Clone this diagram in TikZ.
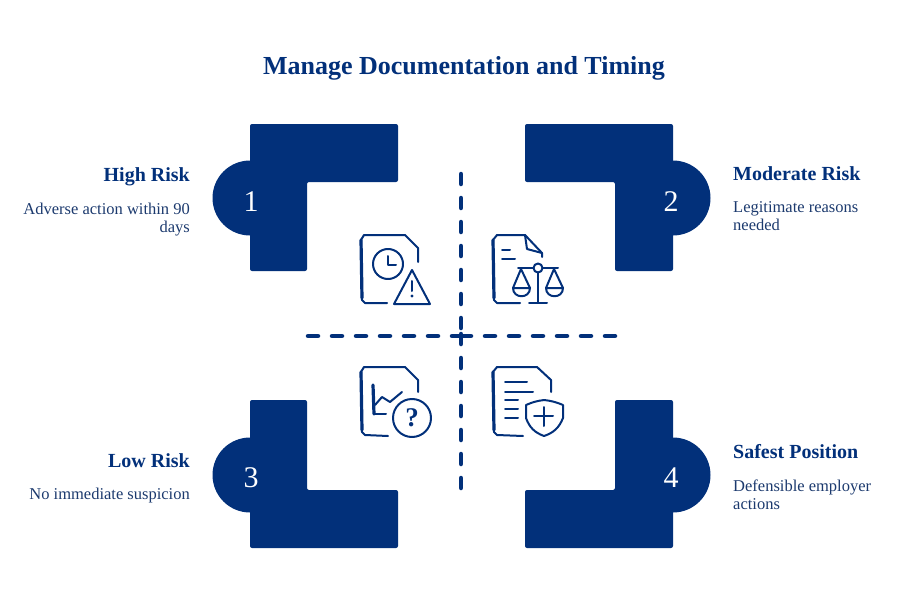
\documentclass[tikz,border=0pt]{standalone}
\usepackage{fontspec}
\setmainfont{Liberation Serif}
\usepackage{tikz}
\usetikzlibrary{positioning, calc}
\definecolor{navy}{HTML}{02307A}
\definecolor{inkblue}{HTML}{1C3A6E}
\tikzstyle{block} = [fill=navy, rounded corners=2pt]
\tikzstyle{numlabel} = [text=white, font=\fontsize{30}{30}\selectfont, inner sep=0pt]
\tikzstyle{headline} = [text=navy, font=\fontsize{20}{24}\selectfont\bfseries, inner sep=0pt]
\tikzstyle{desctext} = [text=inkblue, font=\fontsize{16.5}{18}\selectfont, inner sep=0pt, align=left]
\tikzstyle{dashline} = [draw=navy, line width=4.5pt, line cap=round, dash pattern=on 10pt off 14pt]
\tikzstyle{icon} = [draw=navy, line width=2pt, line cap=round, line join=round]
\tikzstyle{iconedge} = [draw=navy, line width=3.2pt, line cap=round]

\begin{document}
\begin{tikzpicture}[x=1pt, y=-1pt]
    \useasboundingbox (0,0) rectangle (900,594);

    % Title
    \node[text=navy, font=\fontsize{26}{30}\selectfont\bfseries, inner sep=0pt] (title) at (464,68) {Manage Documentation and Timing};

    % Blocks - one per corner
    \fill[block] (250,198) circle[radius=37.5];
    \fill[block] (250,124) -- (398,124) -- (398,182) -- (307,182) -- (307,271) -- (250,271) -- cycle;
    \fill[block] (673,198) circle[radius=37.5];
    \fill[block] (525,124) -- (673,124) -- (673,271) -- (615,271) -- (615,182) -- (525,182) -- cycle;
    \fill[block] (250,475) circle[radius=37.5];
    \fill[block] (250,400) -- (307,400) -- (307,490) -- (398,490) -- (398,548) -- (250,548) -- cycle;
    \fill[block] (673,475) circle[radius=37.5];
    \fill[block] (615,400) -- (673,400) -- (673,548) -- (525,548) -- (525,490) -- (615,490) -- cycle;

    % Numbers
    \node[numlabel] (n1) at (251,202) {1};
    \node[numlabel] (n2) at (671,202) {2};
    \node[numlabel] (n3) at (251,478) {3};
    \node[numlabel] (n4) at (671,478) {4};

    % Risk labels
    \node[headline, anchor=east] (high) at (190,177) {High Risk};
    \node[desctext, align=right, below left=17pt and 0pt of high.south east] (highd) {Adverse action within 90\\days};
    \node[headline, anchor=west] (moderate) at (733,174) {Moderate Risk};
    \node[desctext, below right=20pt and 0pt of moderate.south west] (moderated) {Legitimate reasons\\needed};
    \node[headline, anchor=east] (low) at (190,461) {Low Risk};
    \node[desctext, align=right, below left=20pt and 0pt of low.south east] (lowd) {No immediate suspicion};
    \node[headline, anchor=west] (safest) at (733,452) {Safest Position};
    \node[desctext, below right=20pt and 0pt of safest.south west] (safestd) {Defensible employer\\actions};

    % Dashed cross
    \coordinate (ctop) at (461,174);
    \coordinate (cbot) at (461,488);
    \coordinate (cleft) at (308,336);
    \coordinate (cright) at (615,336);
    \draw[dashline] (ctop) -- (461,330);
    \draw[dashline] (cbot) -- (461,332);
    \draw[dashline] (cleft) -- (461,336);
    \draw[dashline] (cright) -- (461,336);

    % Icon 1 - clock and warning
    \draw[icon] (418,262) -- (418,248) -- (405,235) -- (364,235) to[bend right=8] (361,240) -- (362,300) -- (365,303) -- (387,303);
    \draw[iconedge] (361,240) -- (362,298);
    \draw[icon] (388,264) circle[radius=15];
    \draw[icon] (388,256) -- (388,265) -- (396,265);
    \draw[icon] (412,270) -- (430,304) -- (394,304) -- cycle;
    \draw[icon] (412,281) -- (412,291);
    \fill[navy] (412,296) circle[radius=1.6];

    % Icon 2 - document and scales
    \draw[icon] (542,257) -- (542,253) -- (525,235) -- (497,235) to[bend right=8] (493,240) -- (494,300) -- (497,303) -- (520,303);
    \draw[iconedge] (493,240) -- (494,298);
    \draw[icon] (525,235) -- (527,249) -- (542,253);
    \draw[icon] (502,250) -- (510,250);
    \draw[icon] (502,259) -- (515,259);
    \draw[icon] (518,268) -- (533.5,268);
    \draw[icon] (542.5,268) -- (558,268);
    \draw[icon] (538,268) circle[radius=4.5];
    \draw[icon] (538,272.5) -- (538,303);
    \draw[icon] (529,303) -- (547,303);
    \draw[icon] (513,288) -- (521,269) -- (530,288) .. controls (530,299) and (513,299) .. (513,288) -- (530,288);
    \draw[icon] (546,288) -- (554,269) -- (563,288) .. controls (563,299) and (546,299) .. (546,288) -- (563,288);

    % Icon 3 - chart and question
    \draw[icon] (418,392) -- (418,380) -- (405,367) -- (364,367) to[bend right=8] (361,372) -- (362,432) -- (365,435) -- (388,436);
    \draw[iconedge] (361,372) -- (362,430);
    \draw[iconedge] (373,385) -- (374,414);
    \draw[icon] (374,414) -- (386,414);
    \draw[icon] (375,405) -- (382,397) -- (390,402) -- (402,392);
    \draw[icon] (412,418) circle[radius=19];
    \node[text=navy, font=\fontsize{27}{27}\selectfont\bfseries, inner sep=0pt] (qmark) at (412,418) {?};

    % Icon 4 - list and shield
    \draw[icon] (551,392) -- (551,380) -- (537,367) -- (497,367) to[bend right=8] (493,372) -- (494,432) -- (497,435) -- (523,436);
    \draw[iconedge] (493,372) -- (494,430);
    \draw[icon] (505,382) -- (527,382);
    \draw[icon] (505,392) -- (533,392);
    \draw[icon] (505,400) -- (518,400);
    \draw[icon] (505,409) -- (518,409);
    \draw[icon] (505,418) -- (518,418);
    \draw[icon] (526,405) to[bend left=8] (544,400) to[bend left=8] (563,405) -- (563,418) to[bend left=25] (544,436) to[bend left=25] (526,418) -- cycle;
    \draw[icon] (544,407) -- (544,426);
    \draw[icon] (534,416) -- (553,416);
\end{tikzpicture}
\end{document}
